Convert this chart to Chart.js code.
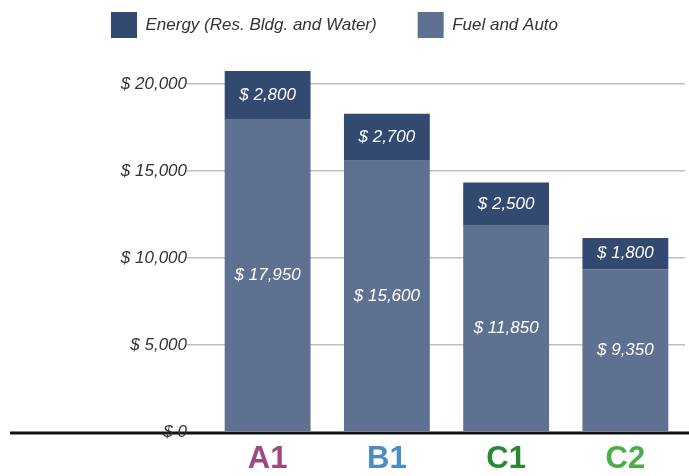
<!DOCTYPE html>
<html>
<head>
<meta charset="utf-8">
<script src="https://cdn.jsdelivr.net/npm/chart.js@4/dist/chart.umd.min.js"></script>
<style>
  html, body { margin: 0; padding: 0; background: #fff; }
  #wrap { width: 689px; height: 476px; }
</style>
</head>
<body>
<div id="wrap"><canvas id="myChart"></canvas></div>
<script>
var groups = ["A1", "B1", "C1", "C2"];
var groupColors = ["#9c4a82", "#4d8cc0", "#268a36", "#4aae48"];
var fuel = [17950, 15600, 11850, 9350];
var energy = [2800, 2700, 2500, 1800];
var yTicks = [0, 5000, 10000, 15000, 20000];

var font = "'Liberation Sans Narrow', 'Liberation Sans', Arial, sans-serif";
var legendPad = 41;

function money(v) {
  return "$ " + v.toLocaleString("en-US");
}

// draws the value inside each stacked segment
var segLabels = {
  id: "segLabels",
  afterDatasetsDraw: function(chart) {
    var ctx = chart.ctx;
    ctx.save();
    ctx.fillStyle = "#ffffff";
    ctx.font = "italic 17px " + font;
    ctx.textAlign = "center";
    ctx.textBaseline = "middle";
    chart.data.datasets.forEach(function(ds, i) {
      var meta = chart.getDatasetMeta(i);
      meta.data.forEach(function(bar, j) {
        var mid = (bar.y + bar.base) / 2;
        ctx.fillText(money(ds.data[j]), bar.x, mid);
      });
    });
    ctx.restore();
  }
};

// thick black baseline running across the whole width
var baseLine = {
  id: "baseLine",
  beforeDraw: function(chart) {
    var ctx = chart.ctx;
    var y = chart.scales.y.getPixelForValue(0);
    ctx.save();
    ctx.strokeStyle = "#111";
    ctx.lineWidth = 3;
    ctx.beginPath();
    ctx.moveTo(10, y + 1);
    ctx.lineTo(chart.width, y + 1);
    ctx.stroke();
    ctx.restore();
  }
};

// fixed legend height, wide gap between items, nudged like the original
var legendRoom = {
  id: "legendRoom",
  beforeInit: function(chart) {
    var fit = chart.legend.fit;
    chart.legend.fit = function() {
      fit.bind(chart.legend)();
      this.height = 56;
    };
  },
  afterLayout: function(chart) {
    chart.legend.left -= 8;
    chart.legend.right -= 8;
    chart.legend.top -= (legendPad - 10);
  }
};

var ctx = document.getElementById("myChart");
var myChart = new Chart(ctx, {
  type: "bar",
  data: {
    labels: groups,
    datasets: [
      {
        label: "Fuel and Auto",
        data: fuel,
        backgroundColor: "#5f7191"
      },
      {
        label: "Energy (Res. Bldg. and Water)",
        data: energy,
        backgroundColor: "#324a6f"
      }
    ]
  },
  options: {
    responsive: true,
    maintainAspectRatio: false,
    animation: false,
    layout: { padding: { top: 2, right: 4, left: 0, bottom: 4 } },
    datasets: {
      bar: { barPercentage: 0.72, categoryPercentage: 1 }
    },
    plugins: {
      tooltip: { enabled: false },
      legend: {
        position: "top",
        reverse: true,
        labels: {
          boxWidth: 26,
          boxHeight: 26,
          padding: legendPad,
          color: "#333",
          font: { family: font, size: 17, style: "italic" }
        }
      }
    },
    scales: {
      x: {
        stacked: true,
        grid: { display: false },
        border: { display: false },
        afterFit: function(scale) { scale.height = 40; },
        ticks: {
          padding: 1,
          color: function(c) { return groupColors[c.index]; },
          font: { family: font, size: 31, weight: "bold" }
        }
      },
      y: {
        stacked: true,
        min: 0,
        max: 21500,
        afterBuildTicks: function(scale) {
          scale.ticks = yTicks.map(function(v) { return { value: v }; });
        },
        afterFit: function(scale) { scale.width = 208; },
        border: { display: false },
        grid: {
          color: function(c) { return c.tick && c.tick.value === 0 ? "rgba(0,0,0,0)" : "#c0c0c0"; },
          lineWidth: 1.5,
          tickLength: 21,
          drawTicks: true
        },
        ticks: {
          padding: 0,
          color: "#333",
          font: { family: font, size: 17, style: "italic" },
          callback: function(v) { return money(v); }
        }
      }
    }
  },
  plugins: [baseLine, segLabels, legendRoom]
});
</script>
</body>
</html>
